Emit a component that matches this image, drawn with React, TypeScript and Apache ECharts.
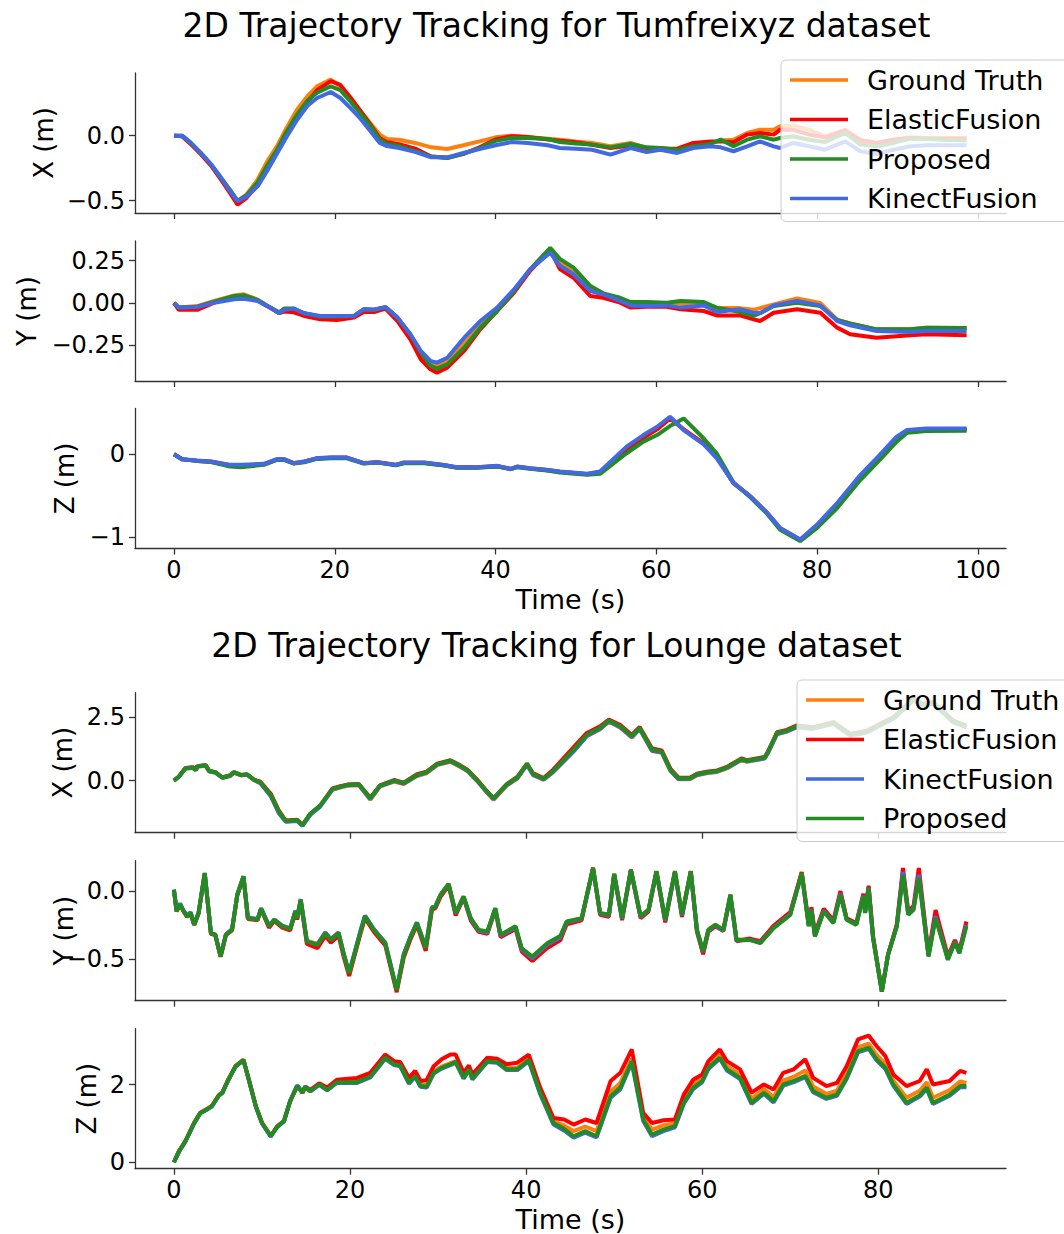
import React, { useEffect, useRef } from "react";
import * as echarts from "echarts";

// ---------------- Tumfreixyz dataset ----------------
const tumXTime = [0, 1, 2, 3.3, 4.6, 5.8, 7, 7.9, 9, 10.4, 11.6, 12.8, 14, 15.3, 16.6, 17.8, 19.5, 20.7, 22, 23.2, 24.5, 25.6, 26.5, 28, 30, 32, 34, 36, 38, 40, 42, 44, 46.5, 48, 50, 52, 54.3, 56.8, 58.8, 60.5, 62.6, 64.6, 66.7, 68, 69.6, 71.3, 72.9, 74.6, 75.4, 77, 79, 81, 83.5, 85.4, 87.4, 89.5, 91.6, 93.6, 95.7, 98.6];
const tumXGroundTruth = [0, -0.005, -0.056, -0.133, -0.223, -0.326, -0.428, -0.505, -0.454, -0.338, -0.197, -0.082, 0.059, 0.2, 0.303, 0.379, 0.431, 0.379, 0.277, 0.187, 0.09, 0.008, -0.026, -0.031, -0.056, -0.09, -0.103, -0.074, -0.044, -0.013, 0, -0.01, -0.023, -0.031, -0.044, -0.056, -0.082, -0.056, -0.095, -0.095, -0.108, -0.074, -0.056, -0.038, -0.031, 0.021, 0.046, 0.046, 0.072, 0.079, 0.046, -0.005, 0.046, -0.031, -0.056, -0.031, -0.013, -0.018, -0.018, -0.018];
const tumXElastic = [0, -0.005, -0.06, -0.14, -0.23, -0.335, -0.445, -0.53, -0.48, -0.38, -0.25, -0.12, 0.01, 0.14, 0.26, 0.35, 0.42, 0.39, 0.29, 0.19, 0.08, -0.02, -0.05, -0.065, -0.1, -0.16, -0.17, -0.14, -0.09, -0.03, -0.005, -0.01, -0.03, -0.04, -0.05, -0.07, -0.095, -0.075, -0.095, -0.1, -0.1, -0.056, -0.044, -0.044, -0.05, 0.008, 0.02, 0.008, 0.046, 0.046, 0.008, -0.013, 0.038, -0.038, -0.056, -0.031, -0.018, -0.023, -0.023, -0.023];
const tumXProposed = [0, 0, -0.05, -0.13, -0.22, -0.32, -0.42, -0.5, -0.46, -0.36, -0.23, -0.11, 0.03, 0.16, 0.27, 0.33, 0.38, 0.35, 0.26, 0.17, 0.07, -0.03, -0.064, -0.08, -0.12, -0.16, -0.172, -0.14, -0.095, -0.04, -0.018, -0.018, -0.026, -0.049, -0.06, -0.069, -0.09, -0.064, -0.09, -0.095, -0.108, -0.082, -0.064, -0.03, -0.082, -0.031, -0.005, -0.031, -0.018, -0.005, -0.031, -0.049, 0.021, -0.069, -0.082, -0.056, -0.023, -0.023, -0.031, -0.038];
const tumXKinect = [0, 0, -0.05, -0.13, -0.22, -0.32, -0.43, -0.505, -0.47, -0.39, -0.27, -0.14, -0.01, 0.12, 0.23, 0.29, 0.336, 0.29, 0.21, 0.13, 0.03, -0.056, -0.08, -0.095, -0.125, -0.167, -0.167, -0.133, -0.103, -0.074, -0.049, -0.056, -0.074, -0.095, -0.1, -0.108, -0.146, -0.095, -0.126, -0.108, -0.133, -0.095, -0.082, -0.09, -0.12, -0.082, -0.044, -0.082, -0.095, -0.056, -0.082, -0.108, -0.044, -0.121, -0.141, -0.108, -0.082, -0.074, -0.074, -0.074];

const tumYTime = [0, 0.6, 2.9, 5, 7.5, 8.7, 10.4, 12, 13.1, 13.7, 14.9, 16.2, 18.2, 20.3, 22.4, 23.6, 24.9, 26.3, 27.8, 29.4, 30.7, 31.9, 32.7, 34, 36.1, 38.1, 40.2, 42.3, 44.3, 46.8, 48, 49.7, 51.8, 53.4, 55.5, 56.8, 58.8, 61.3, 63, 65.9, 67.5, 70.4, 72.1, 72.9, 74.6, 77.5, 80.4, 82.5, 84.1, 87.4, 91.6, 93.6, 98.6];
const tumYGroundTruth = [0, -0.027, -0.018, 0.012, 0.045, 0.051, 0.02, -0.027, -0.06, -0.045, -0.047, -0.06, -0.086, -0.086, -0.076, -0.037, -0.04, -0.024, -0.086, -0.19, -0.3, -0.361, -0.372, -0.341, -0.234, -0.135, -0.041, 0.075, 0.198, 0.312, 0.24, 0.18, 0.08, 0.045, 0.02, 0, -0.005, 0, -0.005, 0, -0.03, -0.03, -0.04, -0.03, -0.008, 0.027, 0, -0.1, -0.12, -0.155, -0.155, -0.145, -0.147];
const tumYElastic = [0, -0.04, -0.04, 0.002, 0.037, 0.04, 0.015, -0.03, -0.06, -0.05, -0.055, -0.076, -0.096, -0.1, -0.086, -0.053, -0.053, -0.033, -0.106, -0.214, -0.331, -0.39, -0.41, -0.38, -0.282, -0.155, -0.047, 0.061, 0.19, 0.312, 0.2, 0.149, 0.041, 0.031, 0.002, -0.027, -0.022, -0.022, -0.037, -0.047, -0.073, -0.073, -0.096, -0.106, -0.057, -0.037, -0.057, -0.145, -0.184, -0.204, -0.19, -0.184, -0.19];
const tumYProposed = [0, -0.027, -0.022, 0.008, 0.041, 0.045, 0.018, -0.027, -0.055, -0.033, -0.033, -0.06, -0.08, -0.08, -0.076, -0.037, -0.04, -0.024, -0.086, -0.184, -0.29, -0.37, -0.386, -0.361, -0.263, -0.145, -0.047, 0.07, 0.198, 0.325, 0.26, 0.208, 0.1, 0.057, 0.031, 0.006, 0.006, 0.002, 0.012, 0.006, -0.027, -0.053, -0.076, -0.06, -0.018, 0.002, -0.018, -0.1, -0.12, -0.155, -0.155, -0.145, -0.147];
const tumYKinect = [0, -0.027, -0.024, 0.002, 0.022, 0.025, 0.012, -0.027, -0.06, -0.04, -0.033, -0.06, -0.076, -0.076, -0.076, -0.037, -0.04, -0.024, -0.086, -0.184, -0.282, -0.341, -0.351, -0.322, -0.204, -0.106, -0.027, 0.08, 0.198, 0.296, 0.22, 0.169, 0.071, 0.051, 0.012, -0.014, -0.018, -0.014, -0.027, -0.014, -0.053, -0.037, -0.057, -0.06, -0.014, 0.012, -0.014, -0.106, -0.131, -0.165, -0.171, -0.165, -0.165];

const tumZTime = [0, 1, 2.9, 4.6, 7, 8.3, 11.2, 12.8, 13.7, 14.9, 16.2, 17.8, 19.5, 21.5, 23.6, 25.3, 27.6, 28.6, 31.1, 33.6, 35.2, 37.7, 40.2, 41.9, 42.7, 44.3, 46.4, 48, 51.4, 53, 56.3, 58.4, 60.1, 61.7, 63.4, 65.9, 67.5, 69.6, 71.7, 73.8, 75.4, 77.9, 80, 82.5, 85.4, 87.8, 89.9, 91.2, 93.6, 98.6];
const tumZGroundTruth = [0, -0.06, -0.078, -0.088, -0.13, -0.135, -0.118, -0.058, -0.056, -0.106, -0.086, -0.046, -0.038, -0.04, -0.106, -0.094, -0.126, -0.1, -0.1, -0.13, -0.158, -0.158, -0.142, -0.176, -0.15, -0.17, -0.19, -0.21, -0.238, -0.215, 0.07, 0.21, 0.31, 0.44, 0.3, 0.125, -0.035, -0.345, -0.508, -0.708, -0.89, -1.03, -0.86, -0.6, -0.26, -0.02, 0.2, 0.285, 0.305, 0.305];
const tumZElastic = [0, -0.06, -0.08, -0.09, -0.135, -0.14, -0.12, -0.064, -0.064, -0.11, -0.09, -0.05, -0.042, -0.042, -0.108, -0.098, -0.13, -0.104, -0.104, -0.132, -0.16, -0.16, -0.144, -0.178, -0.152, -0.172, -0.192, -0.212, -0.24, -0.22, 0.06, 0.2, 0.3, 0.432, 0.3, 0.13, -0.03, -0.348, -0.51, -0.71, -0.895, -1.035, -0.87, -0.61, -0.27, -0.03, 0.19, 0.28, 0.3, 0.3];
const tumZProposed = [0, -0.06, -0.08, -0.095, -0.148, -0.156, -0.128, -0.068, -0.068, -0.112, -0.096, -0.056, -0.048, -0.048, -0.112, -0.1, -0.132, -0.108, -0.108, -0.136, -0.164, -0.164, -0.148, -0.18, -0.156, -0.176, -0.196, -0.22, -0.248, -0.236, 0.012, 0.152, 0.232, 0.34, 0.432, 0.19, 0.012, -0.34, -0.52, -0.72, -0.91, -1.048, -0.888, -0.648, -0.308, -0.068, 0.152, 0.26, 0.28, 0.284];
const tumZKinect = [0, -0.06, -0.076, -0.088, -0.128, -0.128, -0.116, -0.06, -0.06, -0.108, -0.088, -0.048, -0.04, -0.04, -0.108, -0.096, -0.128, -0.1, -0.1, -0.128, -0.156, -0.156, -0.14, -0.176, -0.148, -0.168, -0.188, -0.208, -0.236, -0.208, 0.092, 0.232, 0.332, 0.452, 0.292, 0.12, -0.048, -0.348, -0.508, -0.708, -0.888, -1.028, -0.848, -0.588, -0.248, -0.008, 0.212, 0.292, 0.312, 0.312];

// ---------------- Lounge dataset ----------------
const lngXTime = [0, 0.57, 1.3, 2.1, 2.5, 2.65, 3.6, 4, 4.7, 5.5, 6.4, 6.8, 7.6, 8.3, 9.1, 9.8, 11, 11.9, 12.7, 14, 14.6, 15.5, 16.6, 18, 18.9, 19.7, 21, 22.3, 23.4, 25, 26.1, 27.6, 28.7, 29.9, 31.4, 32.3, 33.3, 34.4, 35.6, 36.3, 37.8, 39, 40.1, 40.8, 42, 43.1, 45.4, 46.9, 48.4, 49.4, 50.7, 52, 52.9, 54.3, 55.4, 56.4, 57.3, 58.6, 59.4, 60.5, 61.7, 62.8, 64.5, 65.1, 67.1, 67.5, 68.5, 69.6, 70.7, 72.6, 74.9, 76.8, 78.7, 80.2, 81.7, 84, 85.1, 86.2, 88.5, 90];
const lngXGroundTruth = [0, 0.15, 0.47, 0.5, 0.4, 0.54, 0.58, 0.36, 0.31, 0.1, 0.18, 0.31, 0.2, 0.23, 0.01, -0.1, -0.6, -1.25, -1.62, -1.58, -1.78, -1.33, -1.02, -0.37, -0.28, -0.21, -0.19, -0.76, -0.24, -0.04, -0.14, 0.18, 0.29, 0.61, 0.74, 0.58, 0.38, -0.01, -0.5, -0.76, -0.2, 0.08, 0.62, 0.21, 0.03, 0.34, 1.16, 1.76, 2.03, 2.32, 2.09, 1.7, 2.03, 1.17, 1.1, 0.37, 0.05, 0.05, 0.21, 0.29, 0.34, 0.48, 0.82, 0.74, 0.87, 1.11, 1.84, 1.93, 2.1, 2.04, 2.24, 1.77, 1.9, 2.17, 2.43, 3.16, 2.96, 3.03, 2.3, 2.1];
const lngXElastic = [0, 0.16, 0.5, 0.53, 0.43, 0.57, 0.61, 0.39, 0.33, 0.12, 0.21, 0.33, 0.22, 0.24, 0.04, -0.04, -0.52, -1.18, -1.58, -1.55, -1.75, -1.32, -1, -0.31, -0.22, -0.16, -0.14, -0.68, -0.19, 0.02, -0.08, 0.25, 0.35, 0.67, 0.8, 0.64, 0.44, 0.05, -0.44, -0.7, -0.14, 0.14, 0.67, 0.28, 0.1, 0.44, 1.32, 1.88, 2.14, 2.41, 2.19, 1.8, 2.12, 1.27, 1.19, 0.46, 0.12, 0.11, 0.27, 0.35, 0.4, 0.54, 0.88, 0.8, 0.93, 1.17, 1.91, 2.0, 2.17, 2.11, 2.31, 1.84, 1.97, 2.24, 2.5, 3.23, 3.03, 3.1, 2.37, 2.17];
const lngXKinect = [0, 0.15, 0.48, 0.51, 0.41, 0.55, 0.59, 0.37, 0.32, 0.11, 0.19, 0.32, 0.21, 0.24, 0.02, -0.09, -0.62, -1.28, -1.63, -1.6, -1.79, -1.35, -1.03, -0.36, -0.26, -0.19, -0.17, -0.73, -0.22, -0.02, -0.12, 0.2, 0.31, 0.63, 0.76, 0.6, 0.4, 0.01, -0.48, -0.73, -0.18, 0.1, 0.63, 0.22, 0.04, 0.35, 1.15, 1.76, 2.04, 2.34, 2.11, 1.72, 2.05, 1.18, 1.12, 0.39, 0.06, 0.07, 0.22, 0.31, 0.36, 0.5, 0.83, 0.76, 0.88, 1.12, 1.84, 1.94, 2.11, 2.05, 2.25, 1.78, 1.91, 2.18, 2.44, 3.17, 2.97, 3.04, 2.31, 2.11];
const lngXProposed = [0, 0.16, 0.49, 0.52, 0.42, 0.56, 0.6, 0.38, 0.33, 0.12, 0.2, 0.33, 0.22, 0.25, 0.03, -0.07, -0.57, -1.23, -1.6, -1.56, -1.76, -1.3, -0.99, -0.33, -0.24, -0.17, -0.15, -0.7, -0.2, 0, -0.1, 0.22, 0.33, 0.65, 0.78, 0.62, 0.42, 0.03, -0.46, -0.7, -0.15, 0.12, 0.66, 0.25, 0.07, 0.38, 1.22, 1.81, 2.08, 2.37, 2.14, 1.75, 2.08, 1.22, 1.15, 0.42, 0.09, 0.09, 0.25, 0.33, 0.38, 0.52, 0.86, 0.78, 0.91, 1.15, 1.88, 1.97, 2.14, 2.08, 2.28, 1.81, 1.94, 2.21, 2.47, 3.2, 3, 3.07, 2.34, 2.14];

const lngYTime = [0, 0.3, 0.7, 1.1, 1.5, 1.9, 2.3, 2.8, 3.5, 4.2, 4.7, 5.3, 5.9, 6.6, 7.2, 7.9, 8.4, 9.5, 9.9, 10.8, 11.4, 12.3, 13.2, 13.8, 14, 14.4, 15.1, 16.3, 17.2, 17.8, 18.7, 19.3, 19.9, 21.2, 21.7, 22.7, 24, 25.3, 26.1, 26.9, 27.6, 28.6, 29.3, 29.7, 30.3, 31.2, 32, 32.9, 33.7, 34.6, 35.6, 36.5, 37.1, 38.8, 39.5, 40.7, 42.4, 43.9, 44.6, 46.3, 47.6, 48.4, 49.4, 50, 50.9, 51.9, 53, 53.9, 54.8, 55.8, 56.9, 57.7, 58.7, 59.4, 60.1, 60.7, 61.5, 62.4, 63.2, 63.9, 65.4, 66.6, 68.1, 70, 71.3, 72.1, 72.4, 72.8, 73.8, 74.9, 75.7, 76.4, 77.5, 78.3, 78.5, 78.9, 79.4, 80.4, 81.1, 82.1, 82.8, 83.4, 84, 84.6, 85.7, 86.5, 87.9, 88.7, 89.2, 90];
const lngYGroundTruth = [0.01, -0.145, -0.095, -0.148, -0.185, -0.16, -0.248, -0.162, 0.133, -0.31, -0.322, -0.483, -0.322, -0.284, -0.027, 0.11, -0.198, -0.208, -0.128, -0.258, -0.21, -0.258, -0.276, -0.146, -0.196, -0.06, -0.365, -0.39, -0.305, -0.355, -0.305, -0.468, -0.605, -0.295, -0.183, -0.283, -0.382, -0.73, -0.468, -0.332, -0.232, -0.418, -0.122, -0.11, -0.025, 0.053, -0.16, -0.04, -0.2, -0.288, -0.3, -0.128, -0.325, -0.262, -0.425, -0.49, -0.39, -0.335, -0.228, -0.203, 0.175, -0.16, -0.172, 0.13, -0.197, 0.16, -0.185, -0.136, 0.148, -0.21, 0.148, -0.172, 0.148, -0.283, -0.445, -0.283, -0.247, -0.283, -0.025, -0.357, -0.356, -0.378, -0.268, -0.168, 0.137, -0.255, -0.133, -0.33, -0.145, -0.23, -0.02, -0.207, -0.243, -0.033, -0.157, 0.028, -0.342, -0.738, -0.468, -0.255, 0.145, -0.168, -0.128, 0.125, -0.475, -0.18, -0.495, -0.37, -0.45, -0.245];
const lngYElastic = [0.01, -0.15, -0.1, -0.15, -0.19, -0.165, -0.25, -0.165, 0.13, -0.315, -0.325, -0.485, -0.325, -0.29, -0.03, 0.105, -0.205, -0.215, -0.135, -0.27, -0.22, -0.27, -0.29, -0.16, -0.21, -0.075, -0.39, -0.42, -0.33, -0.38, -0.33, -0.49, -0.625, -0.31, -0.2, -0.3, -0.4, -0.745, -0.49, -0.35, -0.25, -0.44, -0.14, -0.125, -0.04, 0.04, -0.18, -0.05, -0.215, -0.3, -0.315, -0.14, -0.34, -0.28, -0.445, -0.515, -0.42, -0.36, -0.245, -0.215, 0.17, -0.175, -0.19, 0.12, -0.215, 0.15, -0.2, -0.15, 0.14, -0.23, 0.14, -0.19, 0.145, -0.3, -0.465, -0.3, -0.26, -0.295, -0.04, -0.37, -0.35, -0.37, -0.255, -0.155, 0.14, -0.24, -0.12, -0.31, -0.13, -0.215, 0, -0.2, -0.235, -0.02, -0.145, 0.04, -0.33, -0.74, -0.47, -0.245, 0.17, -0.15, -0.11, 0.17, -0.46, -0.14, -0.48, -0.36, -0.44, -0.224];
const lngYKinect = [0.01, -0.14, -0.09, -0.145, -0.18, -0.155, -0.245, -0.16, 0.13, -0.305, -0.32, -0.48, -0.32, -0.28, -0.025, 0.108, -0.195, -0.205, -0.125, -0.255, -0.21, -0.255, -0.275, -0.145, -0.195, -0.06, -0.37, -0.395, -0.305, -0.355, -0.305, -0.465, -0.6, -0.29, -0.18, -0.28, -0.38, -0.725, -0.465, -0.33, -0.23, -0.415, -0.12, -0.11, -0.025, 0.05, -0.165, -0.045, -0.205, -0.292, -0.305, -0.13, -0.33, -0.268, -0.43, -0.495, -0.395, -0.34, -0.23, -0.205, 0.165, -0.165, -0.18, 0.125, -0.205, 0.155, -0.19, -0.14, 0.145, -0.218, 0.14, -0.18, 0.14, -0.29, -0.45, -0.29, -0.255, -0.29, -0.03, -0.365, -0.36, -0.38, -0.27, -0.17, 0.13, -0.255, -0.135, -0.33, -0.145, -0.23, -0.02, -0.21, -0.245, -0.035, -0.16, 0.025, -0.345, -0.74, -0.47, -0.258, 0.14, -0.17, -0.13, 0.12, -0.475, -0.185, -0.5, -0.375, -0.455, -0.25];
const lngYProposed = [0.01, -0.15, -0.1, -0.15, -0.187, -0.162, -0.249, -0.162, 0.133, -0.31, -0.322, -0.483, -0.322, -0.286, -0.027, 0.108, -0.2, -0.212, -0.13, -0.26, -0.212, -0.26, -0.278, -0.15, -0.2, -0.064, -0.372, -0.396, -0.31, -0.36, -0.31, -0.47, -0.606, -0.298, -0.187, -0.286, -0.384, -0.729, -0.47, -0.335, -0.236, -0.421, -0.126, -0.113, -0.027, 0.052, -0.162, -0.039, -0.2, -0.286, -0.298, -0.126, -0.322, -0.26, -0.421, -0.483, -0.384, -0.33, -0.224, -0.2, 0.17, -0.162, -0.175, 0.126, -0.2, 0.158, -0.187, -0.138, 0.145, -0.212, 0.145, -0.175, 0.145, -0.286, -0.446, -0.286, -0.249, -0.286, -0.027, -0.36, -0.36, -0.384, -0.273, -0.175, 0.133, -0.26, -0.138, -0.335, -0.15, -0.236, -0.027, -0.212, -0.249, -0.039, -0.162, 0.022, -0.347, -0.741, -0.47, -0.26, 0.12, -0.175, -0.138, 0.096, -0.483, -0.2, -0.507, -0.377, -0.458, -0.26];

const lngZTime = [0, 0.57, 1.3, 2.3, 3, 3.8, 4.3, 5.1, 5.5, 6.2, 7, 7.9, 8.5, 9.3, 10, 11, 11.7, 12.5, 13.2, 14, 14.6, 14.9, 15.5, 16.5, 17.4, 18.5, 20.8, 22.3, 24, 25, 25.7, 26.7, 27.4, 28, 28.7, 29.5, 30.4, 31.4, 32, 32.9, 33.5, 33.9, 35.6, 36.7, 37.8, 39, 40.3, 41.6, 43.1, 44.3, 45.4, 46.7, 48, 49.6, 50.7, 52, 53.3, 54.3, 55.6, 56.9, 57.9, 59, 60, 60.7, 62, 62.8, 64.3, 65.6, 67, 68.1, 69.2, 70.4, 71.7, 72.6, 74.1, 75.3, 76.4, 77.7, 78.9, 79.8, 80.8, 81.7, 83.2, 84.7, 85.5, 86.2, 88.1, 89.3, 90];
const lngZGroundTruth = [0, 0.28, 0.55, 1.02, 1.28, 1.38, 1.45, 1.73, 1.8, 2.14, 2.48, 2.64, 2.14, 1.45, 1.02, 0.68, 0.92, 1.07, 1.58, 1.97, 1.78, 1.93, 1.84, 2.02, 1.88, 2.08, 2.09, 2.23, 2.71, 2.54, 2.52, 2.08, 2.25, 2, 1.98, 2.33, 2.46, 2.55, 2.6, 2.2, 2.42, 2.18, 2.62, 2.6, 2.42, 2.43, 2.66, 1.82, 1.05, 0.95, 0.8, 0.92, 0.8, 1.82, 2.04, 2.66, 1.16, 0.84, 0.95, 1, 1.62, 2, 2.16, 2.5, 2.76, 2.47, 2.26, 1.63, 1.88, 1.68, 2.1, 2.2, 2.36, 1.95, 1.76, 1.84, 2.27, 2.96, 3.05, 2.76, 2.53, 2.1, 1.66, 1.84, 2.06, 1.66, 1.86, 2.08, 2.04];
const lngZElastic = [0, 0.28, 0.54, 1.01, 1.27, 1.37, 1.44, 1.72, 1.79, 2.13, 2.47, 2.63, 2.13, 1.44, 1.01, 0.67, 0.91, 1.06, 1.57, 1.96, 1.8, 1.95, 1.86, 2.03, 1.92, 2.12, 2.17, 2.3, 2.77, 2.6, 2.58, 2.17, 2.35, 2.09, 2.11, 2.47, 2.65, 2.77, 2.77, 2.3, 2.49, 2.26, 2.69, 2.66, 2.52, 2.56, 2.77, 1.92, 1.14, 1.1, 0.97, 1.1, 1.01, 2.09, 2.3, 2.9, 1.27, 1.01, 1.08, 1.1, 1.74, 2.13, 2.26, 2.6, 2.9, 2.6, 2.39, 1.79, 2, 1.87, 2.3, 2.39, 2.65, 2.17, 1.96, 2.04, 2.47, 3.16, 3.26, 2.99, 2.73, 2.26, 1.96, 2.09, 2.39, 2, 2.09, 2.35, 2.3];
const lngZKinect = [0, 0.27, 0.53, 1, 1.26, 1.36, 1.43, 1.71, 1.78, 2.12, 2.46, 2.62, 2.12, 1.43, 1, 0.66, 0.9, 1.05, 1.58, 1.98, 1.8, 1.95, 1.82, 1.99, 1.85, 2.04, 2.04, 2.18, 2.66, 2.5, 2.47, 2.02, 2.2, 1.94, 1.92, 2.28, 2.41, 2.5, 2.56, 2.15, 2.37, 2.13, 2.58, 2.56, 2.37, 2.37, 2.6, 1.75, 0.97, 0.82, 0.63, 0.76, 0.64, 1.66, 1.88, 2.56, 1.06, 0.67, 0.8, 0.9, 1.5, 1.89, 2.06, 2.4, 2.66, 2.36, 2.14, 1.5, 1.76, 1.54, 1.97, 2.06, 2.19, 1.8, 1.63, 1.71, 2.14, 2.83, 2.92, 2.62, 2.4, 1.97, 1.5, 1.69, 1.89, 1.5, 1.71, 1.93, 1.93];
const lngZProposed = [0, 0.28, 0.54, 1.01, 1.27, 1.37, 1.44, 1.72, 1.79, 2.13, 2.47, 2.63, 2.13, 1.44, 1.01, 0.67, 0.91, 1.06, 1.57, 1.96, 1.79, 1.94, 1.83, 2, 1.86, 2.06, 2.06, 2.2, 2.69, 2.52, 2.49, 2.04, 2.22, 1.96, 1.94, 2.3, 2.43, 2.52, 2.58, 2.17, 2.39, 2.15, 2.6, 2.58, 2.39, 2.39, 2.63, 1.79, 1.01, 0.86, 0.67, 0.8, 0.67, 1.7, 1.92, 2.6, 1.1, 0.71, 0.84, 0.93, 1.53, 1.92, 2.09, 2.43, 2.69, 2.39, 2.17, 1.53, 1.79, 1.57, 2, 2.09, 2.22, 1.83, 1.66, 1.74, 2.17, 2.86, 2.95, 2.65, 2.43, 2, 1.53, 1.72, 1.92, 1.53, 1.74, 1.96, 1.96];

// ---------------- ticks / labels ----------------
const tumTimeTicks = [0, 20, 40, 60, 80, 100];
const lngTimeTicks = [0, 20, 40, 60, 80];
const tumXTicks = [-0.5, 0];
const tumYTicks = [-0.25, 0, 0.25];
const tumZTicks = [-1, 0];
const lngXTicks = [0, 2.5];
const lngYTicks = [-0.5, 0];
const lngZTicks = [0, 2];

const titleTop = "2D Trajectory Tracking for Tumfreixyz dataset";
const titleBottom = "2D Trajectory Tracking for Lounge dataset";
const tumLegend = ["Ground Truth", "ElasticFusion", "Proposed", "KinectFusion"];
const lngLegend = ["Ground Truth", "ElasticFusion", "KinectFusion", "Proposed"];

const FONT = "DejaVu Sans";
const COLORS: Record<string, string> = {
  "Ground Truth": "#ff7f0e",
  ElasticFusion: "#ff0000",
  Proposed: "#228b22",
  KinectFusion: "#4169e1",
};

type Panel = {
  time: number[];
  series: Record<string, number[]>;
  order: string[];
  yTicks: number[];
  yDec: number;
  yMin: number;
  yMax: number;
  xMin: number;
  xMax: number;
  xTicks: number[];
  showX: boolean;
  name: string;
  nameGap: number;
  top: number;
};

const fmt = (v: number, d: number) => {
  const s = Math.abs(v).toFixed(d);
  return (v < -1e-9 ? "\u2212" : "") + s;
};

export default function App() {
  const ref = useRef<HTMLDivElement>(null);
  useEffect(() => {
    if (!ref.current) return;
    const chart = echarts.init(ref.current, undefined, { renderer: "svg" });

    const panels: Panel[] = [
      { time: tumXTime, series: { "Ground Truth": tumXGroundTruth, ElasticFusion: tumXElastic, Proposed: tumXProposed, KinectFusion: tumXKinect }, order: tumLegend, yTicks: tumXTicks, yDec: 1, yMin: -0.595, yMax: 0.482, xMin: -4.85, xMax: 103.5, xTicks: tumTimeTicks, showX: false, name: "X (m)", nameGap: 78, top: 73 },
      { time: tumYTime, series: { "Ground Truth": tumYGroundTruth, ElasticFusion: tumYElastic, Proposed: tumYProposed, KinectFusion: tumYKinect }, order: tumLegend, yTicks: tumYTicks, yDec: 2, yMin: -0.459, yMax: 0.365, xMin: -4.85, xMax: 103.5, xTicks: tumTimeTicks, showX: false, name: "Y (m)", nameGap: 95, top: 241 },
      { time: tumZTime, series: { "Ground Truth": tumZGroundTruth, ElasticFusion: tumZElastic, Proposed: tumZProposed, KinectFusion: tumZKinect }, order: tumLegend, yTicks: tumZTicks, yDec: 0, yMin: -1.137, yMax: 0.552, xMin: -4.85, xMax: 103.5, xTicks: tumTimeTicks, showX: true, name: "Z (m)", nameGap: 57, top: 408.5 },
      { time: lngXTime, series: { "Ground Truth": lngXGroundTruth, ElasticFusion: lngXElastic, KinectFusion: lngXKinect, Proposed: lngXProposed }, order: lngLegend, yTicks: lngXTicks, yDec: 1, yMin: -2.06, yMax: 3.47, xMin: -4.42, xMax: 94.5, xTicks: lngTimeTicks, showX: false, name: "X (m)", nameGap: 59, top: 692.7 },
      { time: lngYTime, series: { "Ground Truth": lngYGroundTruth, ElasticFusion: lngYElastic, KinectFusion: lngYKinect, Proposed: lngYProposed }, order: lngLegend, yTicks: lngYTicks, yDec: 1, yMin: -0.808, yMax: 0.224, xMin: -4.42, xMax: 94.5, xTicks: lngTimeTicks, showX: false, name: "Y (m)", nameGap: 58, top: 860.7 },
      { time: lngZTime, series: { "Ground Truth": lngZGroundTruth, ElasticFusion: lngZElastic, KinectFusion: lngZKinect, Proposed: lngZProposed }, order: lngLegend, yTicks: lngZTicks, yDec: 0, yMin: -0.165, yMax: 3.435, xMin: -4.42, xMax: 94.5, xTicks: lngTimeTicks, showX: true, name: "Z (m)", nameGap: 35, top: 1028.7 },
    ];

    const axisColor = "#333333";
    const grid: any[] = [];
    const xAxis: any[] = [];
    const yAxis: any[] = [];
    const series: any[] = [];

    panels.forEach((p, i) => {
      grid.push({ left: 135, width: 871, top: p.top, height: 140, containLabel: false });
      xAxis.push({
        type: "value",
        gridIndex: i,
        min: p.xMin,
        max: p.xMax,
        axisLine: { show: true, onZero: false, lineStyle: { color: axisColor, width: 1.3 } },
        axisTick: { show: true, length: 6, customValues: p.xTicks, lineStyle: { color: axisColor, width: 1.3 } },
        axisLabel: { show: p.showX, customValues: p.xTicks, margin: 9, fontSize: 24, fontFamily: FONT, color: "#000", formatter: (v: number) => String(Math.round(v)) },
        splitLine: { show: false },
        name: p.showX ? "Time (s)" : "",
        nameLocation: "middle",
        nameGap: 37,
        nameMoveOverlap: false,
        nameTextStyle: { fontSize: 27, fontFamily: FONT, color: "#000" },
      });
      yAxis.push({
        type: "value",
        gridIndex: i,
        min: p.yMin,
        max: p.yMax,
        axisLine: { show: true, onZero: false, lineStyle: { color: axisColor, width: 1.3 } },
        axisTick: { show: true, length: 6, customValues: p.yTicks, lineStyle: { color: axisColor, width: 1.3 } },
        axisLabel: { customValues: p.yTicks, margin: 10, fontSize: 24, fontFamily: FONT, color: "#000", formatter: (v: number) => fmt(v, p.yDec) },
        splitLine: { show: false },
        name: p.name,
        nameLocation: "middle",
        nameRotate: 90,
        nameGap: p.nameGap,
        nameMoveOverlap: false,
        nameTextStyle: { fontSize: 26, fontFamily: FONT, color: "#000" },
      });
      p.order.forEach((nm) => {
        const vals = p.series[nm];
        series.push({
          name: nm,
          type: "line",
          xAxisIndex: i,
          yAxisIndex: i,
          showSymbol: false,
          symbol: "none",
          silent: true,
          color: COLORS[nm],
          lineStyle: { color: COLORS[nm], width: 4 },
          data: p.time.map((t, k) => [t, vals[k]]),
        });
      });
    });

    const legendBase = {
      orient: "vertical",
      icon: "rect",
      itemWidth: 58,
      itemHeight: 3.5,
      itemGap: 9.5,
      selectedMode: false,
      backgroundColor: "rgba(255,255,255,0.8)",
      borderColor: "#cccccc",
      borderWidth: 1,
      borderRadius: 5,
      textStyle: { fontSize: 27, fontFamily: FONT, color: "#000", lineHeight: 30, padding: [0, 0, 0, 14] },
    };

    chart.setOption({
      animation: false,
      backgroundColor: "#ffffff",
      grid,
      xAxis,
      yAxis,
      series,
      legend: [
        { ...legendBase, data: tumLegend, left: 781, top: 60, padding: [5, 40, 8, 9] },
        { ...legendBase, data: lngLegend, left: 797, top: 680, padding: [5, 40, 8, 9] },
      ],
      graphic: [
        { type: "text", x: 556.5, y: 25, style: { text: titleTop, font: `33px '${FONT}'`, fill: "#000", textAlign: "center", textVerticalAlign: "middle" } },
        { type: "text", x: 556.5, y: 645, style: { text: titleBottom, font: `33px '${FONT}'`, fill: "#000", textAlign: "center", textVerticalAlign: "middle" } },
      ],
    });

    return () => chart.dispose();
  }, []);

  return <div ref={ref} style={{ position: "absolute", left: 0, top: 0, width: 1064, height: 1234 }} />;
}
